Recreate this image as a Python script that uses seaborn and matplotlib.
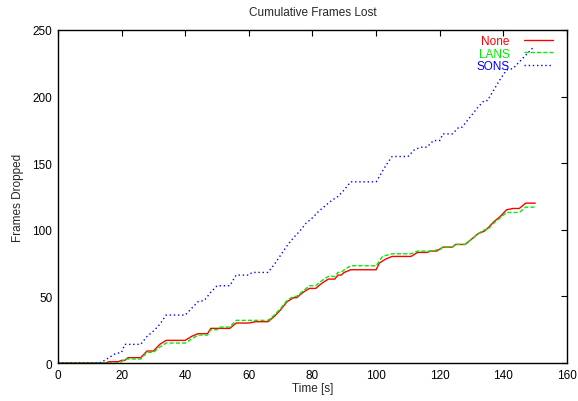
import matplotlib
matplotlib.use('Agg')
import matplotlib.pyplot as plt
import seaborn as sns
import pandas as pd

# cumulative frames dropped
none_t = [0, 15, 16, 19, 20, 21, 22, 26, 28, 30, 32, 34, 40, 42, 44, 47, 48, 54, 56, 60,
          62, 66, 68, 70, 72, 74, 75, 77, 79, 81, 83, 85, 87, 88, 89, 90, 92, 100, 101, 103,
          105, 111, 113, 116, 117, 119, 121, 124, 125, 128, 130, 132, 134, 135, 137, 139, 141, 143, 145, 147,
          150]
none_v = [0, 0, 1, 1, 2, 2, 4, 4, 9, 9, 14, 17, 17, 20, 22, 22, 26, 26, 30, 30,
          31, 31, 35, 40, 46, 49, 49, 53, 56, 56, 60, 63, 63, 66, 66, 68, 70, 70, 75, 78,
          80, 80, 83, 83, 84, 84, 87, 87, 89, 89, 93, 97, 99, 101, 106, 110, 115, 116, 116, 120,
          120]

lans_t = [0, 19, 20, 21, 26, 28, 30, 32, 34, 40, 42, 44, 47, 48, 50, 51, 54, 56, 66, 68,
          70, 72, 74, 75, 77, 79, 81, 83, 85, 87, 88, 89, 90, 92, 100, 102, 105, 111, 113, 118,
          119, 120, 121, 124, 125, 128, 130, 132, 134, 135, 137, 139, 141, 145, 147, 150]
lans_v = [0, 0, 1, 3, 3, 8, 8, 12, 15, 15, 18, 21, 21, 25, 25, 27, 27, 32, 32, 36,
          41, 47, 50, 50, 54, 58, 58, 62, 65, 65, 68, 68, 70, 73, 73, 80, 82, 82, 84, 84,
          85, 85, 87, 87, 89, 89, 93, 97, 100, 100, 105, 109, 113, 113, 117, 117]

sons_t = [0, 13, 14, 16, 18, 20, 21, 26, 28, 30, 32, 34, 40, 42, 44, 46, 48, 50, 54, 56,
          60, 61, 66, 68, 70, 72, 74, 76, 78, 80, 82, 84, 86, 88, 90, 92, 100, 101, 103, 105,
          110, 112, 114, 116, 118, 120, 121, 124, 126, 127, 128, 130, 132, 134, 135, 137, 139, 141, 143, 145,
          147, 149, 150]
sons_v = [0, 0, 1, 4, 7, 8, 14, 14, 20, 24, 29, 36, 36, 41, 46, 47, 53, 58, 58, 66,
          66, 68, 68, 74, 81, 88, 94, 99, 105, 109, 114, 118, 122, 125, 130, 136, 136, 140, 148, 155,
          155, 160, 162, 162, 167, 167, 172, 172, 177, 177, 180, 186, 192, 197, 197, 205, 213, 220, 221, 226,
          231, 236, 237]

series_names = ['None', 'LANS', 'SONS']
x_ticks = [0, 20, 40, 60, 80, 100, 120, 140, 160]
y_ticks = [0, 50, 100, 150, 200, 250]

df = pd.concat([
    pd.DataFrame({'time': none_t, 'frames': none_v, 'series': 'None'}),
    pd.DataFrame({'time': lans_t, 'frames': lans_v, 'series': 'LANS'}),
    pd.DataFrame({'time': sons_t, 'frames': sons_v, 'series': 'SONS'}),
])

sns.set_style('white')
plt.rcParams['font.family'] = ['Liberation Sans', 'DejaVu Sans']

fig = plt.figure(figsize=(5.78, 4.02), dpi=100)
ax = fig.add_axes([0.1003, 0.0945, 0.8807, 0.8285])

palette = {'None': '#ff0000', 'LANS': '#00ee00', 'SONS': '#0000ff'}
dashes = {'None': '', 'LANS': (3, 1.5), 'SONS': (1, 2)}
sns.lineplot(data=df, x='time', y='frames', hue='series', style='series',
             hue_order=series_names, style_order=series_names,
             palette=palette, dashes=dashes, estimator=None, sort=False,
             linewidth=1.0, ax=ax)

ax.set_xlim(0, 160)
ax.set_ylim(0, 250)
ax.set_xticks(x_ticks)
ax.set_yticks(y_ticks)
ax.tick_params(direction='in', length=4, width=0.8, top=True, right=True,
               labelsize=8.5, pad=4, colors='black')
for s in ax.spines.values():
    s.set_visible(True)
    s.set_color('black')
    s.set_linewidth(1.0)

ax.set_xlabel('Time [s]', fontsize=8.5, labelpad=1)
ax.set_ylabel('Frames Dropped', fontsize=8.5, labelpad=6)
ax.set_title('Cumulative Frames Lost', fontsize=8.5, pad=11)

handles, labels = ax.get_legend_handles_labels()
ax.legend(handles, labels, loc='upper right', bbox_to_anchor=(0.9725, 0.985),
          frameon=False, markerfirst=False, labelcolor='linecolor', fontsize=8.5,
          handlelength=2.5, handletextpad=1.2, labelspacing=0.05,
          borderaxespad=0, borderpad=0)

fig.savefig('out.png', dpi=100)
